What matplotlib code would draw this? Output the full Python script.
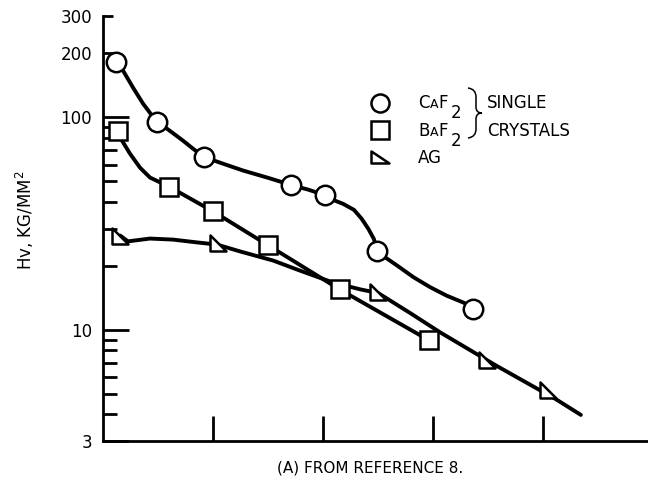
import matplotlib
matplotlib.use('Agg')
import matplotlib.pyplot as plt
from matplotlib.path import Path
from matplotlib.patches import PathPatch

# marker positions (x in tick units, y = Hv)
caf2_x = [0.118, 0.49, 0.92, 1.71, 2.02, 2.49, 3.36]
caf2_y = [182, 95, 65, 48, 43, 23.4, 12.6]
baf2_x = [0.136, 0.60, 1.00, 1.50, 2.15, 2.96]
baf2_y = [86.5, 47.2, 36.1, 25.0, 15.5, 8.94]
ag_x = [0.155, 1.04, 2.50, 3.49, 4.04]
ag_y = [27.8, 25.5, 15.0, 7.2, 5.2]

# hand drawn curves
caf2_cx = [0.118, 0.182, 0.273, 0.364, 0.427, 0.49, 0.582, 0.727, 0.818, 0.92, 1.064,
           1.273, 1.491, 1.609, 1.71, 1.864, 2.02, 2.09, 2.18, 2.28, 2.35, 2.41,
           2.46, 2.49, 2.56, 2.67, 2.82, 2.97, 3.12, 3.28, 3.36]
caf2_cy = [182, 166, 138, 116, 105, 95, 88.4, 77.7, 71.2, 65, 61.2,
           56.2, 52.1, 49.9, 48, 45.7, 43, 40.9, 39.2, 36.7, 33.3, 29.9,
           26.8, 23.4, 22.0, 20.1, 17.7, 15.9, 14.5, 13.4, 12.6]
baf2_cx = [0.136, 0.173, 0.245, 0.336, 0.427, 0.60, 1.00, 1.50, 2.15, 2.96]
baf2_cy = [86.5, 77.7, 67.5, 58.0, 52.1, 47.2, 36.1, 25.0, 15.5, 8.94]
ag_cx = [0.155, 0.227, 0.427, 0.636, 0.855, 1.036, 1.245, 1.545, 1.79, 2.09, 2.34,
         2.50, 2.79, 3.06, 3.58, 4.11, 4.34]
ag_cy = [27.8, 26.1, 26.9, 26.6, 25.8, 25.2, 23.4, 21.2, 19.0, 16.7, 15.5,
         14.9, 12.0, 9.75, 6.75, 4.73, 3.98]

ytick_vals = [3, 10, 100, 200, 300]
ytick_labels = ['3', '10', '100', '200', '300']
minor_vals = [4, 5, 6, 7, 8, 9, 20, 30, 40, 50, 60, 70, 80, 90]

plt.rcParams['font.family'] = ['DejaVu Sans']

fig = plt.figure(figsize=(6.48, 4.83), dpi=100)
ax = fig.add_axes([103/648, 42/483, 545/648, 425/483])
fin = fig.dpi_scale_trans


def px(x, y):
    # pixel position (from top left) -> inches for fig.dpi_scale_trans
    return x / 100, (483 - y) / 100


tri = Path([(-1, 1), (-1, -1), (1, -1), (-1, 1)],
           [Path.MOVETO, Path.LINETO, Path.LINETO, Path.CLOSEPOLY])
tri_flat = Path([(-1, 0.65), (-1, -0.65), (1, -0.65), (-1, 0.65)],
                [Path.MOVETO, Path.LINETO, Path.LINETO, Path.CLOSEPOLY])

lw = 2.8
for cx, cy in [(caf2_cx, caf2_cy), (baf2_cx, baf2_cy), (ag_cx, ag_cy)]:
    ax.plot(cx, cy, color='black', lw=lw, solid_capstyle='round',
            solid_joinstyle='round', zorder=2)

mk = dict(mfc='white', mec='black', mew=1.8, ls='none', zorder=3)
ax.plot(caf2_x, caf2_y, 'o', ms=14, **mk)
ax.plot(baf2_x, baf2_y, 's', ms=13, **mk)
ax.plot(ag_x, ag_y, marker=tri, ms=12, **mk)

ax.set_yscale('log')
ax.set_ylim(3, 300)
ax.set_xlim(0, 4.95)

ax.set_yticks(ytick_vals)
ax.set_yticklabels(ytick_labels, fontsize=12)
ax.set_yticks(minor_vals, minor=True)
ax.yaxis.set_minor_formatter(plt.NullFormatter())
ax.tick_params(axis='y', which='major', direction='in', length=19, width=2, pad=8)
ax.tick_params(axis='y', which='minor', direction='in', length=10, width=2)
for t in ax.yaxis.get_major_ticks():
    if t.get_loc() in (200, 300):
        t.tick1line.set_markersize(7)

ax.set_xticks([1, 2, 3, 4])
ax.set_xticklabels([])
ax.tick_params(axis='x', direction='in', length=18, width=2)

for s in ['top', 'right']:
    ax.spines[s].set_visible(False)
for s in ['left', 'bottom']:
    ax.spines[s].set_linewidth(2)

# y label
fig.text(25/648, 1 - 220/483, 'Hv, KG/MM$^2$', fontsize=12, rotation=90,
         ha='center', va='center')

# legend drawn by hand as in the original
lm = dict(mfc='white', mec='black', mew=1.8, ls='none', transform=fin, clip_on=False)
ax.plot(*px(380, 103), 'o', ms=13, **lm)
ax.plot(*px(380, 130), 's', ms=13, **lm)
ax.plot(*px(380, 157), marker=tri_flat, ms=13, **lm)

big = dict(fontsize=12, va='baseline', transform=fin)
small = dict(fontsize=9, va='baseline', transform=fin)
for row_y, first in [(108, 'C'), (136, 'B')]:
    fig.text(*px(418, row_y), first, **big)
    fig.text(*px(430, row_y), 'A', **small)
    fig.text(*px(438, row_y), 'F', **big)
    fig.text(*px(451, row_y + 10), '2', **big)
fig.text(*px(418, 163), 'AG', **big)
fig.text(*px(487, 108), 'SINGLE', **big)
fig.text(*px(487, 136), 'CRYSTALS', **big)

bx = [px(468, 88), px(476, 89), px(476, 97), px(476, 106), px(476, 109),
      px(476, 113), px(482, 113), px(476, 113), px(476, 117),
      px(476, 120), px(476, 129), px(476, 137), px(468, 138)]
codes = [Path.MOVETO, Path.CURVE3, Path.CURVE3, Path.LINETO, Path.CURVE3, Path.CURVE3,
         Path.MOVETO, Path.CURVE3, Path.CURVE3, Path.LINETO, Path.CURVE3, Path.CURVE3,
         Path.CURVE3]
brace = Path([px(468, 88), px(476, 89), px(476, 97), px(476, 107), px(476, 113),
              px(482, 113), px(476, 113), px(476, 119), px(476, 129),
              px(476, 137), px(468, 138)],
             [Path.MOVETO, Path.CURVE3, Path.CURVE3, Path.LINETO, Path.CURVE3,
              Path.CURVE3, Path.CURVE3, Path.CURVE3, Path.LINETO, Path.CURVE3,
              Path.CURVE3])
fig.add_artist(PathPatch(brace, fill=False, lw=1.1, ec='black', transform=fin))

fig.text(370/648, 1 - 468/483, '(A) FROM REFERENCE 8.', fontsize=11,
         ha='center', va='center')

fig.savefig('out.png', dpi=100)
